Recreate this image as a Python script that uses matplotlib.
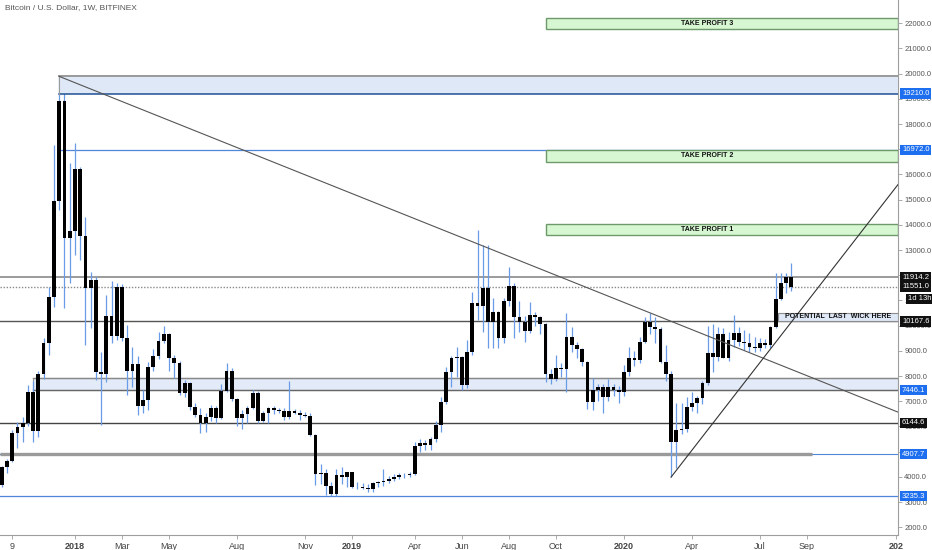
import numpy as np
import pandas as pd
import matplotlib
matplotlib.use('Agg')
import matplotlib.pyplot as plt
import matplotlib.transforms as mtrans
from matplotlib.patches import Rectangle

# weekly candles BTC/USD (Bitfinex), first week starts 2017-09-25
start_date = '2017-09-25'
opens = [3678, 4393, 4631, 5742, 5980, 6140, 7369, 5821, 8083, 9313,
         11138, 14948, 18928, 13480, 13757, 16218, 13559, 11496, 11813, 8163,
         8083, 10385, 9591, 11535, 9512, 8202, 8480, 6813, 7051, 8361,
         8797, 9404, 9670, 8718, 8519, 7329, 7726, 6774, 6456, 6151,
         6377, 6734, 6350, 7420, 8214, 7091, 6337, 6496, 6734, 7329,
         6230, 6536, 6734, 6654, 6614, 6377, 6614, 6550, 6460, 6410,
         5662, 4115, 4166, 3639, 3309, 4075, 3984, 4182, 3611, 3587,
         3571, 3532, 3746, 3786, 3849, 3917, 4008, 4075, 4060, 4130,
         5238, 5333, 5250, 5492, 6059, 6984, 8174, 8730, 8760, 7647,
         8968, 10912, 10781, 11484, 10158, 10555, 9500, 10980, 11575, 10333,
         10134, 9789, 10425, 10360, 10067, 8083, 7885, 8309, 8270, 9563,
         9234, 9075, 8547, 6984, 7448, 7579, 7182, 7579, 7450, 7380,
         8174, 8706, 8640, 9341, 10158, 9936, 9880, 8571, 8083, 5373,
         5861, 5900, 6785, 6944, 7140, 7714, 8904, 8745, 9658, 8706,
         9432, 9700, 9365, 9313, 9142, 9103, 9313, 9234, 9936, 11047,
         11682, 11914]
highs = [4420, 4710, 5850, 6190, 6390, 7646, 7800, 8200, 9513, 11535,
         17166, 19891, 19500, 16456, 17246, 16297, 14313, 12130, 11932, 8956,
         11218, 11773, 11694, 11654, 10027, 9154, 8800, 7448, 8571, 9075,
         9761, 9988, 9700, 8837, 8611, 7845, 7780, 6932, 6734, 6550,
         6853, 6800, 7686, 8531, 8321, 7150, 6654, 6800, 7448, 7400,
         6600, 6780, 6820, 6720, 6720, 7817, 6700, 6640, 6560, 6520,
         5700, 4512, 4300, 3809, 4313, 4393, 4200, 4200, 3786, 3750,
         3700, 3800, 3830, 4313, 4050, 4100, 4150, 4150, 4200, 5397,
         5492, 5450, 5600, 6200, 7182, 8349, 8797, 9142, 8800, 9432,
         11349, 13800, 13209, 13209, 11087, 10600, 11087, 12341, 11700, 10992,
         10400, 10952, 10555, 10400, 10100, 8300, 8837, 8500, 10492, 9960,
         9365, 9100, 8600, 7912, 7700, 7700, 7885, 7700, 7600, 8440,
         9166, 8980, 9563, 10357, 10515, 10350, 9950, 9234, 8200, 6920,
         6944, 7182, 7380, 7200, 7800, 9988, 10067, 9960, 9900, 9762,
         10424, 9950, 9830, 9700, 9550, 9510, 9480, 9990, 12103, 12079,
         12103, 12500]
lows = [3600, 4155, 4580, 5147, 5397, 6000, 5397, 5600, 7900, 8845,
        10745, 14600, 10700, 11700, 12805, 12607, 9234, 9910, 7845, 6059,
        7766, 9313, 9432, 9400, 7250, 7570, 6464, 6543, 6654, 8202,
        8678, 9313, 8202, 7924, 7250, 7182, 6654, 6389, 5754, 5793,
        6200, 6139, 6300, 7350, 7000, 6020, 5900, 6151, 6700, 6150,
        6190, 6127, 6500, 6520, 6258, 6300, 6500, 6258, 6380, 5622,
        3678, 3700, 3282, 3254, 3254, 3700, 3600, 3540, 3500, 3500,
        3420, 3400, 3600, 3650, 3750, 3820, 3920, 3960, 3990, 4080,
        5000, 5050, 5080, 5400, 5800, 6900, 7579, 7976, 7448, 7516,
        8850, 10226, 9762, 9103, 9103, 9115, 9300, 10800, 9500, 9762,
        9365, 9700, 10000, 9670, 7778, 7700, 7800, 7950, 7357, 8968,
        8700, 8400, 6700, 6654, 7000, 6523, 7000, 7200, 6920, 7200,
        8000, 8400, 8500, 9300, 9670, 9301, 8500, 7800, 3990, 4341,
        5700, 5800, 6600, 6523, 6900, 7647, 8174, 8600, 8700, 8600,
        9166, 9200, 9035, 8968, 8950, 9000, 9103, 9100, 9900, 11019,
        11300, 11388]
closes = opens[1:] + [11551]

# x axis labels
tick_dates = ['2017-10-09', '2018-01-01', '2018-03-05', '2018-05-07', '2018-08-06',
              '2018-11-05', '2019-01-07', '2019-04-01', '2019-06-03', '2019-08-05',
              '2019-10-07', '2020-01-06', '2020-04-06', '2020-07-06', '2020-09-07',
              '2021-01-04']
tick_labels = ['9', '2018', 'Mar', 'May', 'Aug', 'Nov', '2019', 'Apr', 'Jun', 'Aug',
               'Oct', '2020', 'Apr', 'Jul', 'Sep', '202']

# levels drawn on the chart
ath = 19891
tp_zones = [(13600, 14035, 'TAKE PROFIT 1'), (16500, 16972, 'TAKE PROFIT 2'),
            (21780, 22210, 'TAKE PROFIT 3')]
top_zone = (19210, 19891)
mid_zone = (7446.1, 7925)
wick_zone = (10190, 10503)
down_trend_end = 6570
up_trend_start = (3990, 15600)
badges = [(19210.0, '19210.0', 'blue'), (16972.0, '16972.0', 'blue'),
          (11914.2, '11914.2', 'black'), (11551.0, '11551.0', 'black'),
          (10167.6, '10167.6', 'black'), (7446.1, '7446.1', 'blue'),
          (6144.6, '6144.6', 'black'), (4907.7, '4907.7', 'blue'),
          (3235.3, '3235.3', 'blue')]

n = len(opens)
x = np.arange(n)
o = np.array(opens, float)
c = np.array(closes, float)
h = np.array(highs, float)
l = np.array(lows, float)

t0 = pd.Timestamp(start_date)
tick_pos = [(pd.Timestamp(d) - t0).days / 7 for d in tick_dates]

XMIN, XMAX = -0.33, 171.4
YMIN, YMAX = 1694, 22923

axis_font = ['Liberation Sans', 'DejaVu Sans']
box_font = ['Liberation Sans Narrow', 'Liberation Sans', 'DejaVu Sans']

fig = plt.figure(figsize=(9.32, 5.5), dpi=100)
ax = fig.add_axes([0, 15 / 550, 898 / 932, 535 / 550])
ax.set_xlim(XMIN, XMAX)
ax.set_ylim(YMIN, YMAX)

blue_line = '#4f86d9'
wick_col = '#6a9be6'
zone_fill = '#dfe8f7'

# candles
ax.vlines(x, l, h, color=wick_col, lw=0.9, zorder=3)
body_lo = np.minimum(o, c)
body_h = np.maximum(np.abs(c - o), 25)
ax.bar(x, body_h, bottom=body_lo, width=0.72, color='black', zorder=4)

# horizontal levels
ax.axhline(11914.2, color='#8a8a8a', lw=1.2, zorder=2)
ax.axhline(11551.0, color='#8a8a8a', lw=1.0, ls=(0, (1, 1.2)), zorder=2)
ax.axhline(10167.6, color='#555555', lw=1.0, zorder=2)
ax.axhline(6144.6, color='#444444', lw=1.0, zorder=2)
ax.axhline(4907.7, color=blue_line, lw=0.8, zorder=2)
ax.plot([XMIN, 155], [4907.7, 4907.7], color='#9a9a9a', lw=2.4, zorder=2,
        solid_capstyle='butt')
ax.axhline(3235.3, color=blue_line, lw=0.9, zorder=2)

# 16972 line from ATH week
ax.plot([11, XMAX], [16972, 16972], color=blue_line, lw=0.9, zorder=2)

# middle blue zone
ax.add_patch(Rectangle((6, mid_zone[0]), XMAX - 6, mid_zone[1] - mid_zone[0],
                       fc=zone_fill, ec='#8c8c8c', lw=0.8, alpha=0.85, zorder=1))
ax.plot([6, XMAX], [mid_zone[0]] * 2, color='#666666', lw=1.0, zorder=2)
ax.plot([6, XMAX], [mid_zone[1]] * 2, color='#888888', lw=1.0, zorder=2)

# top zone (covers the wicks)
ax.add_patch(Rectangle((11, top_zone[0]), XMAX - 11, top_zone[1] - top_zone[0],
                       fc=zone_fill, ec='none', zorder=5))
ax.plot([11, XMAX], [top_zone[1]] * 2, color='#9a9a9a', lw=1.4, zorder=6)
ax.plot([11, XMAX], [top_zone[0]] * 2, color='#1f4f94', lw=1.1, zorder=6)
ax.plot([11, 11], top_zone, color='#9a9a9a', lw=0.8, zorder=6)

# take profit boxes
tp_x0 = 104.1
for lo, hi, txt in tp_zones:
    ax.add_patch(Rectangle((tp_x0, lo), XMAX - tp_x0, hi - lo, fc='#d6f7d2',
                           ec='#6e9a6b', lw=1.0, zorder=5))
    ax.text(134.9, (lo + hi) / 2, txt, ha='center', va='center', fontsize=5,
            fontweight='bold', color='#111111', zorder=7, family=box_font)

# potential wick box
wx0 = 148.4
ax.add_patch(Rectangle((wx0, wick_zone[0]), XMAX - wx0, wick_zone[1] - wick_zone[0],
                       fc=zone_fill, ec='#8c8c8c', lw=0.8, zorder=5))
ax.text((wx0 + XMAX) / 2, sum(wick_zone) / 2, 'POTENTIAL  LAST  WICK HERE',
        ha='center', va='center', fontsize=5, fontweight='bold',
        color='#111111', zorder=7, family=box_font)

# trend lines
ax.plot([11, XMAX], [ath, down_trend_end], color='#555555', lw=0.8, zorder=6)
ax.plot([128, XMAX], list(up_trend_start), color='#333333', lw=0.8, zorder=6)

# axes styling
for s in ['top', 'left']:
    ax.spines[s].set_visible(False)
ax.spines['right'].set_color('#9e9e9e')
ax.spines['bottom'].set_color('#9e9e9e')
ax.yaxis.tick_right()
ax.set_yticks(np.arange(2000, 22001, 1000))
ax.set_yticklabels([f'{v:.1f}' for v in np.arange(2000, 22001, 1000)],
                   family=axis_font)
ax.tick_params(axis='y', length=3, width=0.6, color='#9e9e9e', labelsize=5.5,
               labelcolor='#555555', pad=1.5)
ax.set_xticks(tick_pos)
ax.set_xticklabels(tick_labels, family=axis_font)
for lab in ax.get_xticklabels():
    if lab.get_text().startswith('20'):
        lab.set_fontweight('bold')
ax.tick_params(axis='x', length=3, width=0.6, color='#9e9e9e', labelsize=6.5,
               labelcolor='#444444', pad=2)

# price badges on the axis
btrans = mtrans.blended_transform_factory(ax.transAxes, ax.transData)
for val, txt, col in badges:
    fc = '#1e6ff0' if col == 'blue' else '#111111'
    ax.text(1.0045, val, txt, transform=btrans, ha='left', va='center',
            fontsize=5.5, color='white', zorder=10, clip_on=False, family=axis_font,
            bbox=dict(boxstyle='square,pad=0.22', fc=fc, ec='none'))
ax.text(1.011, 11060, '1d 13h', transform=btrans, ha='left', va='center',
        fontsize=5.5, color='white', zorder=10, clip_on=False, family=axis_font,
        bbox=dict(boxstyle='square,pad=0.22', fc='#111111', ec='none'))

fig.text(5 / 932, 1 - 8 / 550, 'Bitcoin / U.S. Dollar, 1W, BITFINEX',
         fontsize=6, color='#555555', va='center', ha='left', family=axis_font)

fig.savefig('out.png', dpi=100, facecolor='white')
